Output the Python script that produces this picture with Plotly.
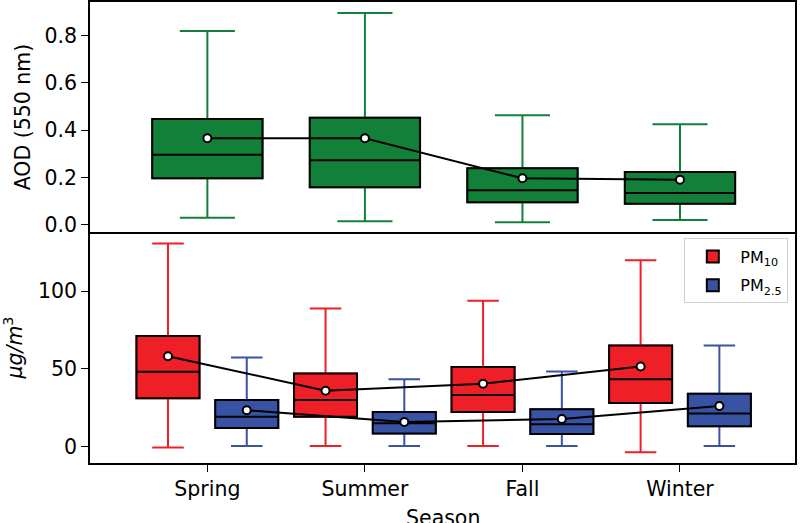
import plotly.graph_objects as go
from plotly.subplots import make_subplots

seasons = ["Spring", "Summer", "Fall", "Winter"]

# AOD (550 nm) box stats
aod_low = [0.030, 0.016, 0.011, 0.021]
aod_q1 = [0.197, 0.159, 0.096, 0.090]
aod_med = [0.297, 0.273, 0.147, 0.135]
aod_q3 = [0.448, 0.453, 0.240, 0.224]
aod_high = [0.819, 0.896, 0.464, 0.425]
aod_mean = [0.366, 0.366, 0.197, 0.191]

# PM10 box stats (ug/m3)
pm10_low = [-0.6, 0.4, 0.4, -3.6]
pm10_q1 = [31.1, 19.3, 22.3, 28.1]
pm10_med = [48.2, 30.0, 33.2, 43.3]
pm10_q3 = [71.1, 47.1, 51.2, 65.1]
pm10_high = [130.6, 88.9, 93.8, 119.9]
pm10_mean = [58.1, 36.0, 40.5, 51.6]

# PM2.5 box stats (ug/m3)
pm25_low = [0.4, 0.4, 0.4, 0.4]
pm25_q1 = [12.0, 8.4, 8.2, 13.1]
pm25_med = [19.3, 15.0, 14.4, 21.4]
pm25_q3 = [30.0, 22.3, 24.0, 34.0]
pm25_high = [57.4, 43.3, 48.4, 65.1]
pm25_mean = [23.4, 15.9, 17.8, 26.1]

GREEN = "#13803a"
RED = "#ee1f26"
BLUE = "#3953a4"

pos = list(range(len(seasons)))
pos10 = [p - 0.25 for p in pos]
pos25 = [p + 0.25 for p in pos]

fig = make_subplots(rows=2, cols=1, shared_xaxes=True, vertical_spacing=0)


def add_box(x, low, q1, med, q3, high, color, width, row, name, show, group):
    # whiskers (colored)
    fig.add_trace(go.Box(
        x=x, lowerfence=low, q1=q1, median=med, q3=q3, upperfence=high,
        fillcolor=color, line=dict(color=color, width=2), width=width,
        whiskerwidth=0.5, showlegend=False, hoverinfo="skip", name=name + " w",
        legendgroup=group,
    ), row=row, col=1)
    # box body (black outline)
    fig.add_trace(go.Box(
        x=x, lowerfence=q1, q1=q1, median=med, q3=q3, upperfence=q3,
        fillcolor=color, line=dict(color="black", width=2), width=width,
        whiskerwidth=0, showlegend=show, name=name, legendgroup=group,
    ), row=row, col=1)


add_box(pos, aod_low, aod_q1, aod_med, aod_q3, aod_high, GREEN, 0.7, 1, "AOD", False, "aod")
add_box(pos10, pm10_low, pm10_q1, pm10_med, pm10_q3, pm10_high, RED, 0.4, 2, "PM<sub>10</sub>", True, "pm10")
add_box(pos25, pm25_low, pm25_q1, pm25_med, pm25_q3, pm25_high, BLUE, 0.4, 2, "PM<sub>2.5</sub>", True, "pm25")

mk = dict(color="white", size=8, line=dict(color="black", width=2))
fig.add_trace(go.Scatter(x=pos, y=aod_mean, mode="lines+markers", line=dict(color="black", width=2),
                         marker=mk, showlegend=False), row=1, col=1)
fig.add_trace(go.Scatter(x=pos10, y=pm10_mean, mode="lines+markers", line=dict(color="black", width=2),
                         marker=mk, showlegend=False), row=2, col=1)
fig.add_trace(go.Scatter(x=pos25, y=pm25_mean, mode="lines+markers", line=dict(color="black", width=2),
                         marker=mk, showlegend=False), row=2, col=1)

FS = 20.5
axis_common = dict(showline=True, linecolor="black", linewidth=1.5, mirror=True, showgrid=False,
                   zeroline=False, ticks="outside", ticklen=7, tickwidth=1.3, tickcolor="black",
                   automargin=False, tickfont=dict(size=FS, color="black"))

fig.update_xaxes(range=[-0.745, 3.73], **axis_common)
fig.update_xaxes(showticklabels=False, ticks="", row=1, col=1)
fig.update_xaxes(tickvals=pos, ticktext=seasons, mirror=False, row=2, col=1)

fig.update_yaxes(**axis_common)
fig.update_yaxes(range=[-0.03, 0.942], tickvals=[0, 0.2, 0.4, 0.6, 0.8], tickformat=".1f",
                 title=dict(text="AOD (550 nm)", font=dict(size=FS, color="black"), standoff=8),
                 row=1, col=1)
fig.update_yaxes(range=[-10.5, 138], tickvals=[0, 50, 100],
                 title=dict(text="<i>μg/m</i><sup>3</sup>", font=dict(size=FS, color="black"), standoff=14),
                 row=2, col=1)

fig.add_annotation(text="Season", xref="paper", yref="paper", x=0.5, y=-0.088,
                   xanchor="center", yanchor="top", showarrow=False,
                   font=dict(size=FS, color="black"))

fig.update_layout(
    width=800, height=523,
    margin=dict(l=90, r=5, t=2, b=60),
    paper_bgcolor="white", plot_bgcolor="white",
    font=dict(family="DejaVu Sans", color="black"),
    boxmode="overlay",
    showlegend=True,
    legend=dict(x=0.843, y=0.487, xanchor="left", yanchor="top",
                bordercolor="#d0d0d0", borderwidth=1, bgcolor="white",
                font=dict(size=16, color="black"), tracegroupgap=5, itemwidth=45),
)
fig.update_yaxes(domain=[0.501, 1.0], row=1, col=1)
fig.update_yaxes(domain=[0.0, 0.501], row=2, col=1)

fig.write_html("out.html", post_script="document.body.style.margin='0px';",
               config={"displayModeBar": False})
